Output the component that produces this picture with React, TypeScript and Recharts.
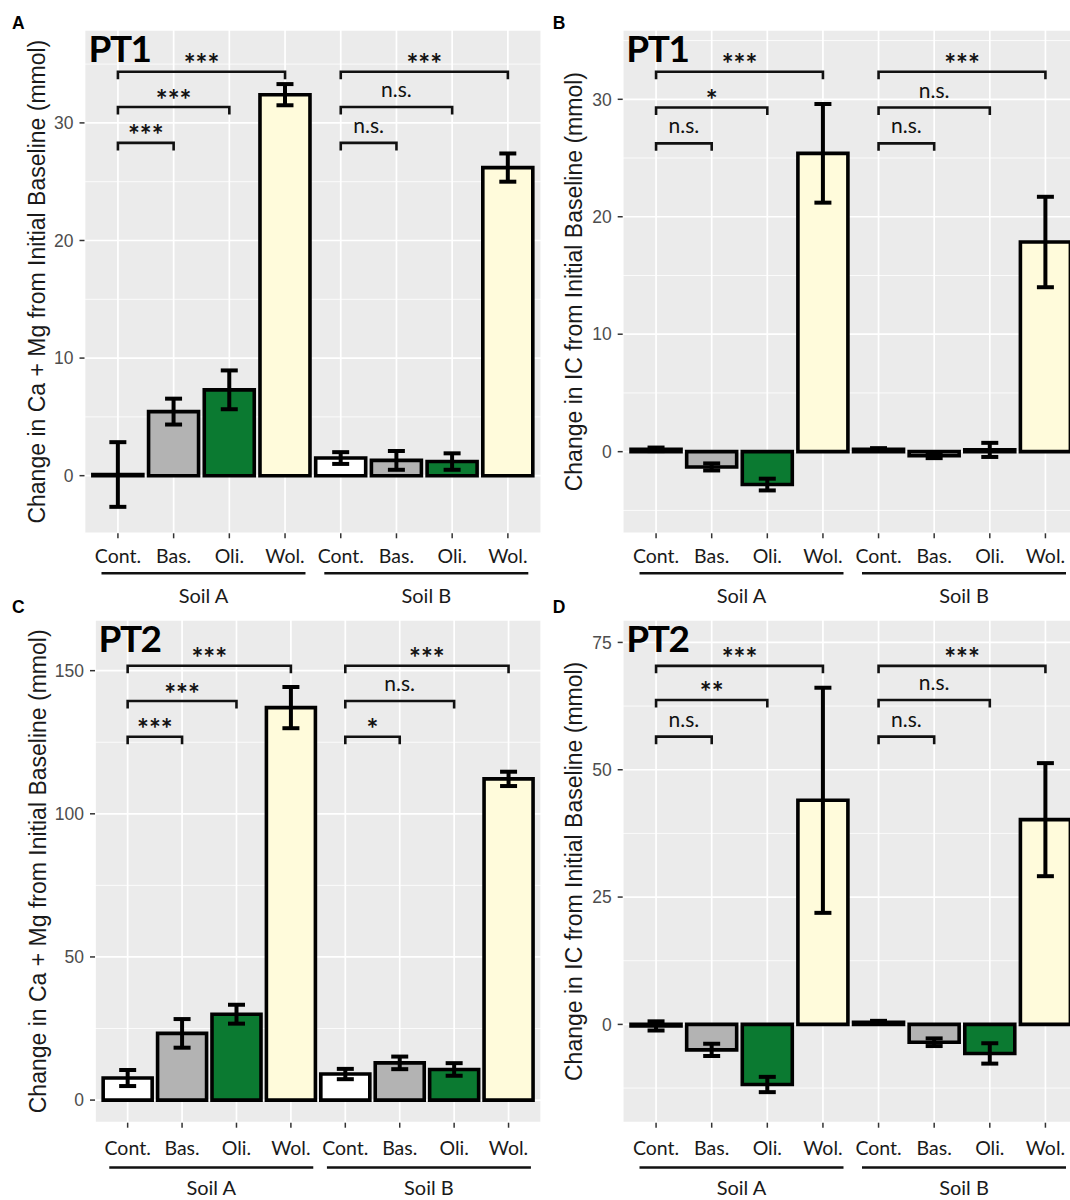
import React from "react";
import { BarChart, Bar, XAxis, YAxis, CartesianGrid, ErrorBar, Cell, ReferenceLine } from "recharts";

const LATO = "Lato, 'Open Sans', sans-serif";
const ARIAL = "'Liberation Sans', Arial, sans-serif";

const SOILS = ["Soil A", "Soil B"];
const TREATMENTS = ["Cont.", "Bas.", "Oli.", "Wol."];
const TREATMENT_FILL = ["#ffffff", "#b3b3b3", "#0b7a31", "#fffbdb"];
// every bracket compares the control with one treatment, inside one soil
const COMPARISONS = [
  ["Cont.", "Bas."],
  ["Cont.", "Oli."],
  ["Cont.", "Wol."],
];

// values run Soil A Cont..Wol, then Soil B Cont..Wol
// A: PT1, Ca + Mg
const pt1CaMgMean = [0.1, 5.45, 7.3, 32.4, 1.5, 1.3, 1.2, 26.2];
const pt1CaMgSe = [2.75, 1.1, 1.65, 0.9, 0.5, 0.8, 0.7, 1.2];
const pt1CaMgTicks = [0, 10, 20, 30];
const pt1CaMgMinor = [5, 15, 25, 35];
const pt1CaMgDomain = [-4.9, 37.9];
const pt1CaMgBracketY = [28.3, 31.35, 34.35];
const pt1CaMgSig = { "Soil A": ["***", "***", "***"], "Soil B": ["n.s.", "n.s.", "***"] };

// B: PT1, IC
const pt1IcMean = [0.2, -1.3, -2.8, 25.4, 0.2, -0.35, 0.15, 17.85];
const pt1IcSe = [0.15, 0.3, 0.5, 4.2, 0.1, 0.2, 0.6, 3.85];
const pt1IcTicks = [0, 10, 20, 30];
const pt1IcMinor = [-5, 5, 15, 25, 35];
const pt1IcDomain = [-6.95, 35.9];
const pt1IcBracketY = [26.25, 29.3, 32.35];
const pt1IcSig = { "Soil A": ["n.s.", "*", "***"], "Soil B": ["n.s.", "n.s.", "***"] };

// C: PT2, Ca + Mg
const pt2CaMgMean = [7.7, 23.3, 30.0, 137.1, 9.1, 13.0, 10.7, 112.2];
const pt2CaMgSe = [2.8, 5.0, 3.3, 7.2, 1.8, 2.2, 2.2, 2.5];
const pt2CaMgTicks = [0, 50, 100, 150];
const pt2CaMgMinor = [25, 75, 125];
const pt2CaMgDomain = [-7.9, 167.7];
const pt2CaMgBracketY = [126.9, 139.4, 151.7];
const pt2CaMgSig = { "Soil A": ["***", "***", "***"], "Soil B": ["*", "n.s.", "***"] };

// D: PT2, IC
const pt2IcMean = [-0.3, -5.0, -11.8, 44.0, 0.4, -3.5, -5.7, 40.2];
const pt2IcSe = [0.9, 1.2, 1.5, 22.1, 0.3, 0.75, 2.0, 11.1];
const pt2IcTicks = [0, 25, 50, 75];
const pt2IcMinor = [-12.5, 12.5, 37.5, 62.5];
const pt2IcDomain = [-19.3, 79.4];
const pt2IcBracketY = [56.5, 63.7, 70.4];
const pt2IcSig = { "Soil A": ["n.s.", "**", "***"], "Soil B": ["n.s.", "n.s.", "***"] };

const MAIN_AXIS_H = 36;

type Box = {
  left: number; top: number; width: number; height: number;
  L: number; R: number; T: number; B: number; titleX: number; low: boolean;
};

function BracketShape(props: any) {
  const { x1, y1, x2, y2 } = props;
  return <path d={`M${x1},${y1 + 7.5}V${y1}H${x2}V${y2 + 7.5}`} fill="none" stroke="#111" strokeWidth={2.6} />;
}

function YTitle({ cx, cy, text }: { cx: number; cy: number; text: string }) {
  return (
    <text
      x={cx}
      y={cy}
      transform={`rotate(-90 ${cx} ${cy})`}
      textAnchor="middle"
      dominantBaseline="central"
      fontFamily={ARIAL}
      fontSize={23}
      fill="#1a1a1a"
    >
      {text}
    </text>
  );
}

function SoilTick(props: any) {
  const { x, y, payload, lineDy, textDy } = props;
  return (
    <g>
      <line x1={x - 100} x2={x + 104} y1={y + lineDy} y2={y + lineDy} stroke="#111" strokeWidth={2.6} />
      <text x={x + 2} y={y + textDy} textAnchor="middle" fontFamily={LATO} fontSize={20} fill="#1a1a1a">
        {payload.value}
      </text>
    </g>
  );
}

function Panel({
  mean, se, ticks, minor, domain, bracketY, sig, title, box,
}: {
  mean: number[]; se: number[]; ticks: number[]; minor: number[]; domain: number[];
  bracketY: number[]; sig: Record<string, string[]>; title: string; box: Box;
}) {
  const { left, top, width, height, L, R, T, B, titleX, low } = box;
  const rows = SOILS.flatMap((soil, s) =>
    TREATMENTS.map((t, i) => ({ key: `${soil}|${t}`, soil, mean: mean[s * 4 + i], se: se[s * 4 + i] }))
  );
  const pad = ((R - L) / 8.2) * 0.1;
  const groupH = top + height - B - MAIN_AXIS_H;
  const labelGap = low ? 32.3 : 29.5;

  return (
    <div style={{ position: "absolute", left, top, width, height }}>
      <BarChart
        width={width}
        height={height}
        data={rows}
        margin={{ top: T - top, right: left + width - R, bottom: 0, left: 0 }}
        barCategoryGap="5%"
      >
        <CartesianGrid fill="#ebebeb" fillOpacity={1} stroke="#ffffff" strokeWidth={1.7} />
        <CartesianGrid horizontalValues={minor} vertical={false} stroke="#ffffff" strokeWidth={0.8} />
        <XAxis
          dataKey="key"
          type="category"
          interval={0}
          height={MAIN_AXIS_H}
          padding={{ left: pad, right: pad }}
          axisLine={false}
          tickLine={{ stroke: "#333", strokeWidth: 1.5 }}
          tickSize={5}
          tickMargin={labelGap - 5 - 13.85}
          tickFormatter={(k: string) => k.split("|")[1]}
          tick={{ fill: "#1a1a1a", fontSize: 19.5, fontFamily: LATO }}
        />
        <XAxis
          xAxisId="soil"
          dataKey="soil"
          type="category"
          allowDuplicatedCategory={false}
          interval={0}
          height={groupH}
          padding={{ left: pad, right: pad }}
          axisLine={false}
          tickLine={false}
          tickSize={0}
          tickMargin={0}
          tick={<SoilTick lineDy={(low ? 44.8 : 40) - MAIN_AXIS_H} textDy={(low ? 72.7 : 69.4) - MAIN_AXIS_H} />}
        />
        <YAxis
          type="number"
          domain={domain}
          ticks={ticks}
          interval={0}
          allowDataOverflow
          width={L - left}
          axisLine={false}
          tickLine={{ stroke: "#333", strokeWidth: 1.5 }}
          tickSize={5}
          tickMargin={6}
          tick={{ fill: "#4d4d4d", fontSize: 17.5, fontFamily: ARIAL }}
          label={<YTitle cx={titleX - left} cy={(T + B) / 2 - top} text={title} />}
        />
        <Bar dataKey="mean" stroke="#000" strokeWidth={3.6} isAnimationActive={false}>
          {rows.map((r, i) => (
            <Cell key={r.key} fill={TREATMENT_FILL[i % 4]} />
          ))}
          <ErrorBar dataKey="se" width={8.5} stroke="#000" strokeWidth={4} isAnimationActive={false} />
        </Bar>
        {SOILS.flatMap((soil) =>
          COMPARISONS.map(([a, b], k) => {
            const text = sig[soil][k];
            const star = text.includes("*");
            return (
              <ReferenceLine
                key={`${soil}-${k}`}
                segment={[
                  { x: `${soil}|${a}`, y: bracketY[k] },
                  { x: `${soil}|${b}`, y: bracketY[k] },
                ]}
                ifOverflow="visible"
                shape={BracketShape}
                label={{
                  value: text,
                  position: "top",
                  offset: star ? -2.5 : 10,
                  fill: "#111",
                  fontSize: star ? 28 : 21,
                  fontWeight: star ? 700 : 400,
                  fontFamily: LATO,
                }}
              />
            );
          })
        )}
      </BarChart>
    </div>
  );
}

const TAGS = [
  { t: "A", x: 12, y: 29.3 },
  { t: "B", x: 552.7, y: 29.3 },
  { t: "C", x: 12, y: 613 },
  { t: "D", x: 552.7, y: 613 },
];
const PT_LABELS = [
  { t: "PT1", x: 88.5, y: 61.7 },
  { t: "PT1", x: 626.3, y: 61.7 },
  { t: "PT2", x: 98.5, y: 651.7 },
  { t: "PT2", x: 626.3, y: 651.7 },
];

export default function App() {
  return (
    <div
      style={{
        position: "absolute",
        left: 0,
        top: 0,
        width: 1070,
        height: 1200,
        overflow: "hidden",
        background: "#fff",
      }}
    >
      <Panel
        mean={pt1CaMgMean} se={pt1CaMgSe} ticks={pt1CaMgTicks} minor={pt1CaMgMinor}
        domain={pt1CaMgDomain} bracketY={pt1CaMgBracketY} sig={pt1CaMgSig}
        title="Change in Ca + Mg from Initial Baseline (mmol)"
        box={{ left: 0, top: 0, width: 545, height: 610, L: 84.5, R: 541.3, T: 30, B: 533.3, titleX: 37, low: false }}
      />
      <Panel
        mean={pt1IcMean} se={pt1IcSe} ticks={pt1IcTicks} minor={pt1IcMinor}
        domain={pt1IcDomain} bracketY={pt1IcBracketY} sig={pt1IcSig}
        title="Change in IC from Initial Baseline (mmol)"
        box={{ left: 535, top: 0, width: 550, height: 610, L: 622.7, R: 1078.8, T: 30, B: 533.3, titleX: 574.5, low: false }}
      />
      <Panel
        mean={pt2CaMgMean} se={pt2CaMgSe} ticks={pt2CaMgTicks} minor={pt2CaMgMinor}
        domain={pt2CaMgDomain} bracketY={pt2CaMgBracketY} sig={pt2CaMgSig}
        title="Change in Ca + Mg from Initial Baseline (mmol)"
        box={{ left: 0, top: 590, width: 545, height: 610, L: 95, R: 541.2, T: 620, B: 1122.7, titleX: 38, low: true }}
      />
      <Panel
        mean={pt2IcMean} se={pt2IcSe} ticks={pt2IcTicks} minor={pt2IcMinor}
        domain={pt2IcDomain} bracketY={pt2IcBracketY} sig={pt2IcSig}
        title="Change in IC from Initial Baseline (mmol)"
        box={{ left: 535, top: 590, width: 550, height: 610, L: 622.7, R: 1078.8, T: 620, B: 1122.7, titleX: 574.5, low: true }}
      />
      <svg width={1070} height={1200} style={{ position: "absolute", left: 0, top: 0, pointerEvents: "none" }}>
        {TAGS.map((g) => (
          <text key={g.t} x={g.x} y={g.y} fontFamily={ARIAL} fontWeight={700} fontSize={17.5} fill="#000">
            {g.t}
          </text>
        ))}
        {PT_LABELS.map((p, i) => (
          <text key={i} x={p.x} y={p.y} fontFamily={LATO} fontWeight={700} fontSize={37} letterSpacing={-1.5} fill="#000">
            {p.t}
          </text>
        ))}
      </svg>
    </div>
  );
}
